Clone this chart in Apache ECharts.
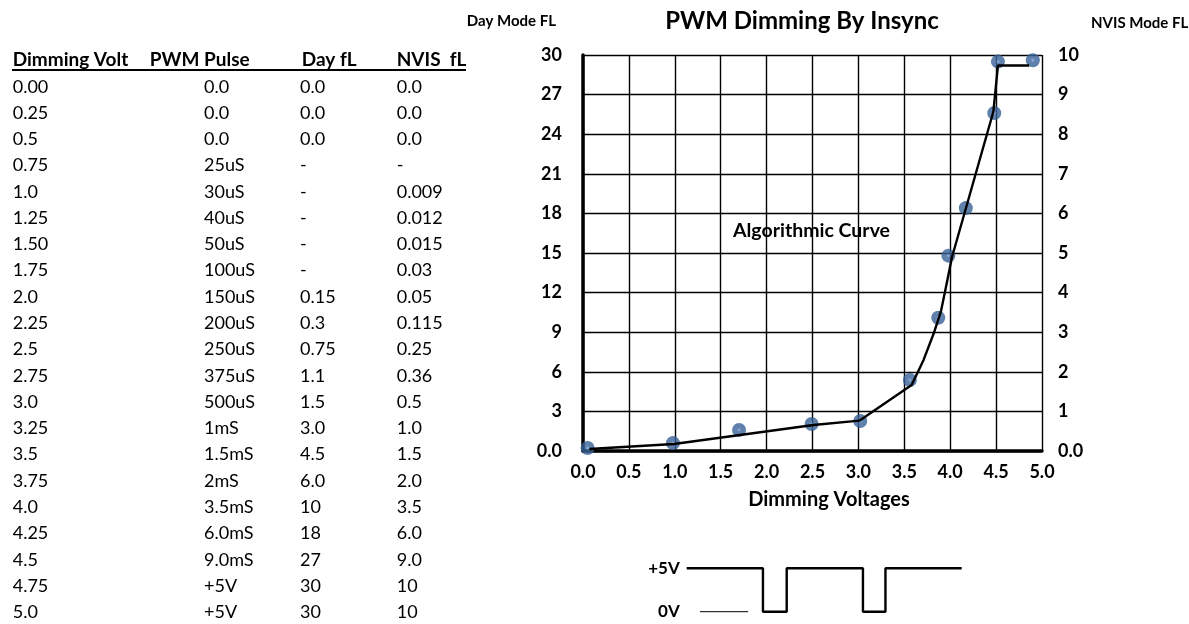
<!DOCTYPE html>
<html>
<head>
<meta charset="utf-8">
<script src="https://cdn.jsdelivr.net/npm/echarts@6/dist/echarts.min.js"></script>
<style>
html, body { margin: 0; padding: 0; background: #fff; }
#main { width: 1189px; height: 624px; }
</style>
</head>
<body>
<div id="main"></div>
<script>
// table on the left
var headers = ['Dimming Volt', 'PWM Pulse', 'Day fL', 'NVIS  fL'];
var volts = ['0.00','0.25','0.5','0.75','1.0','1.25','1.50','1.75','2.0','2.25','2.5','2.75','3.0','3.25','3.5','3.75','4.0','4.25','4.5','4.75','5.0'];
var pulses = ['0.0','0.0','0.0','25uS','30uS','40uS','50uS','100uS','150uS','200uS','250uS','375uS','500uS','1mS','1.5mS','2mS','3.5mS','6.0mS','9.0mS','+5V','+5V'];
var dayFL = ['0.0','0.0','0.0','-','-','-','-','-','0.15','0.3','0.75','1.1','1.5','3.0','4.5','6.0','10','18','27','30','30'];
var nvisFL = ['0.0','0.0','0.0','-','0.009','0.012','0.015','0.03','0.05','0.115','0.25','0.36','0.5','1.0','1.5','2.0','3.5','6.0','9.0','10','10'];

// measured points (blue dots)
var pointVolt = [0.05, 0.98, 1.7, 2.49, 3.02, 3.56, 3.87, 3.98, 4.17, 4.48, 4.52, 4.9];
var pointFL = [0.23, 0.6, 1.6, 2.05, 2.27, 5.38, 10.1, 14.8, 18.4, 25.6, 29.5, 29.6];

// algorithmic curve (black line)
var curveVolt = [0.07, 0.99, 2.51, 3.01, 3.58, 3.71, 3.82, 3.9, 3.95, 4.02, 4.47, 4.52, 4.86];
var curveFL = [0.15, 0.53, 1.97, 2.3, 5.0, 6.9, 8.9, 10.6, 12.3, 14.7, 25.7, 29.2, 29.2];

// pwm waveform sketch under the chart
var waveT = [0, 3.05, 3.05, 4.0, 4.0, 7.05, 7.05, 7.95, 7.95, 11];
var waveV = [5, 5, 0, 0, 5, 5, 0, 0, 5, 5];
var zeroRefT = [0.53, 2.46];
var zeroRefV = [0, 0];

var FONT = 'Lato, "Open Sans", sans-serif';

function zip(a, b) {
  var out = [];
  for (var i = 0; i < a.length; i++) out.push([a[i], b[i]]);
  return out;
}

// table texts
var graphics = [];
var headX = [12.7, 149.7, 301.7, 396.7];
var colX = [12.7, 204, 300, 396.7];
var cols = [volts, pulses, dayFL, nvisFL];
for (var h = 0; h < headers.length; h++) {
  graphics.push({
    type: 'text', x: headX[h], y: 60,
    style: { text: headers[h], font: 'bold 19px ' + FONT, fill: '#000', align: 'left', verticalAlign: 'middle' }
  });
}
graphics.push({
  type: 'line', shape: { x1: 12, y1: 70, x2: 466, y2: 70 },
  style: { stroke: '#000', lineWidth: 1.8 }
});
for (var c = 0; c < cols.length; c++) {
  for (var r = 0; r < cols[c].length; r++) {
    graphics.push({
      type: 'text', x: colX[c], y: 86.7 + r * 26.28,
      style: { text: cols[c][r], font: '18px ' + FONT, fill: '#000', align: 'left', verticalAlign: 'middle' }
    });
  }
}

// headings and notes
graphics.push(
  { type: 'text', x: 802, y: 21, style: { text: 'PWM Dimming By Insync', font: 'bold 24px ' + FONT, fill: '#000', align: 'center', verticalAlign: 'middle' } },
  { type: 'text', x: 556, y: 21, style: { text: 'Day Mode FL', font: 'bold 15px ' + FONT, fill: '#000', align: 'right', verticalAlign: 'middle' } },
  { type: 'text', x: 1091, y: 23, style: { text: 'NVIS Mode FL', font: 'bold 15px ' + FONT, fill: '#000', align: 'left', verticalAlign: 'middle' } },
  { type: 'text', x: 733, y: 231, style: { text: 'Algorithmic Curve', font: 'bold 19.5px ' + FONT, fill: '#000', align: 'left', verticalAlign: 'middle' } },
  { type: 'text', x: 829, y: 500, style: { text: 'Dimming Voltages', font: 'bold 20px ' + FONT, fill: '#000', align: 'center', verticalAlign: 'middle' } }
);

var chart = echarts.init(document.getElementById('main'));
chart.setOption({
  backgroundColor: '#fff',
  animation: false,
  textStyle: { fontFamily: FONT },
  grid: [
    { left: 583, right: 147, top: 55, bottom: 173 },
    { left: 686.7, right: 227.3, top: 568.3, bottom: 12.3 }
  ],
  xAxis: [
    {
      type: 'value', gridIndex: 0, min: 0, max: 5, interval: 0.5,
      axisLine: { show: true, lineStyle: { color: '#000', width: 3.5 } },
      axisTick: { show: false },
      axisLabel: {
        margin: 12, color: '#000', fontWeight: 'bold', fontSize: 18,
        formatter: function (v) { return v.toFixed(1); }
      },
      splitLine: { show: true, lineStyle: { color: '#000', width: 1.4 } }
    },
    {
      type: 'value', gridIndex: 1, min: 0, max: 11, show: false
    }
  ],
  yAxis: [
    {
      type: 'value', gridIndex: 0, min: 0, max: 30, interval: 3,
      axisLine: { show: true, onZero: false, lineStyle: { color: '#000', width: 3.5 } },
      axisTick: { show: false },
      axisLabel: {
        margin: 21, color: '#000', fontWeight: 'bold', fontSize: 18, padding: [6, 0, 0, 0],
        formatter: function (v) { return v === 0 ? '0.0' : String(v); }
      },
      splitLine: { show: true, lineStyle: { color: '#000', width: 1.4 } }
    },
    {
      type: 'value', gridIndex: 0, position: 'right', min: 0, max: 10, interval: 1,
      axisLine: { show: false },
      axisTick: { show: false },
      axisLabel: {
        margin: 16, color: '#000', fontWeight: 'bold', fontSize: 18, padding: [16, 0, 0, 0],
        formatter: function (v) { return v === 0 ? '0.0' : String(v); }
      },
      splitLine: { show: false }
    },
    {
      type: 'value', gridIndex: 1, min: 0, max: 5, interval: 5,
      axisLine: { show: false },
      axisTick: { show: false },
      splitLine: { show: false },
      axisLabel: {
        margin: 7, color: '#000', fontWeight: 'bold', fontSize: 17, padding: [8, 0, 0, 0],
        formatter: function (v) { return v === 5 ? '+5V' : '0V'; }
      }
    }
  ],
  series: [
    {
      name: 'Measured', type: 'scatter', xAxisIndex: 0, yAxisIndex: 0,
      data: zip(pointVolt, pointFL),
      symbolSize: 14,
      z: 3,
      itemStyle: {
        color: {
          type: 'radial', x: 0.5, y: 0.5, r: 0.5,
          colorStops: [
            { offset: 0, color: '#6f9dd2' },
            { offset: 0.15, color: '#5f8cc2' },
            { offset: 0.28, color: '#3a6499' },
            { offset: 1, color: '#355f94' }
          ]
        }
      }
    },
    {
      name: 'Algorithmic Curve', type: 'line', xAxisIndex: 0, yAxisIndex: 0,
      data: zip(curveVolt, curveFL),
      showSymbol: false, symbol: 'none',
      z: 4,
      lineStyle: { color: '#000', width: 2.4 }
    },
    {
      name: 'PWM', type: 'line', xAxisIndex: 1, yAxisIndex: 2,
      data: zip(waveT, waveV),
      symbol: 'none', clip: false,
      lineStyle: { color: '#000', width: 2.4 }
    },
    {
      name: '0V ref', type: 'line', xAxisIndex: 1, yAxisIndex: 2,
      data: zip(zeroRefT, zeroRefV),
      symbol: 'none', clip: false,
      lineStyle: { color: '#000', width: 1 }
    }
  ],
  graphic: graphics
});
</script>
</body>
</html>
